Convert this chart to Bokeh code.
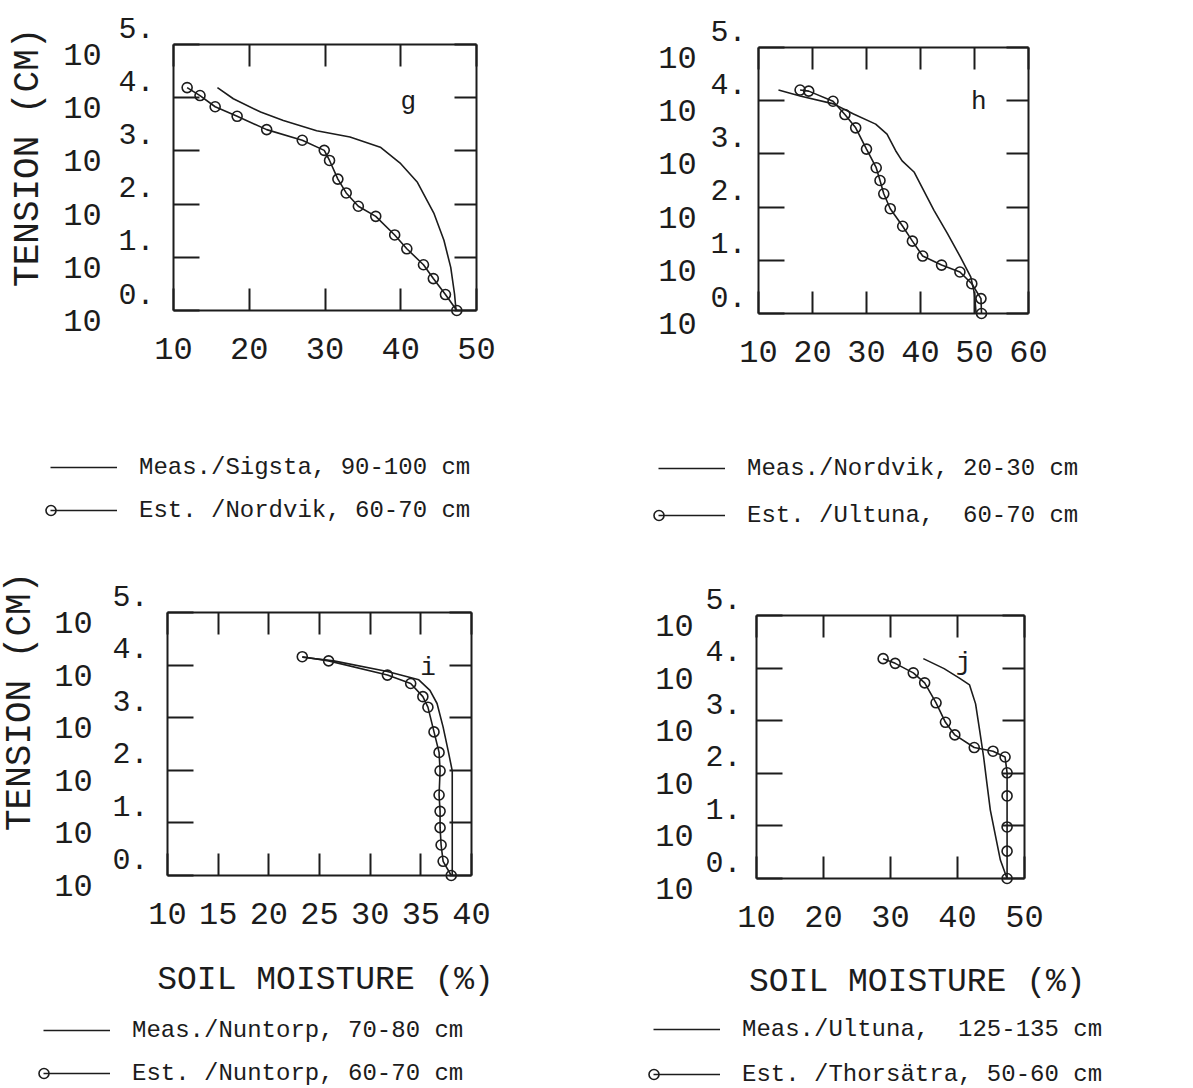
import math
from bokeh.plotting import figure
from bokeh.models import (Label, Legend, LegendItem, LinearAxis, FixedTicker,
                          Range1d, CustomJSTickFormatter)
from bokeh.layouts import column, row
from bokeh.embed import file_html
from bokeh.resources import INLINE

FONT = "Liberation Mono"
INK = "#1c1c1c"

# ---------------- data (y = log10 of tension in cm, x = soil moisture %) ----
g_est_x = [11.8, 13.5, 15.5, 18.4, 22.3, 27.0, 29.9, 30.6, 31.7, 32.8, 34.4, 36.7, 39.2, 40.8, 43.0, 44.3, 45.9, 47.4]
g_est_y = [4.19, 4.04, 3.83, 3.65, 3.40, 3.20, 3.01, 2.82, 2.47, 2.21, 1.96, 1.77, 1.42, 1.16, 0.86, 0.60, 0.30, 0.0]
g_meas_x = [15.8, 17.9, 21.5, 24.5, 28.9, 33.3, 37.3, 40.0, 42.2, 44.4, 45.7, 46.6, 47.1, 47.3]
g_meas_y = [4.19, 3.98, 3.73, 3.57, 3.38, 3.26, 3.07, 2.76, 2.41, 1.82, 1.32, 0.81, 0.31, 0.0]

h_est_x = [17.7, 19.3, 23.8, 26.0, 28.0, 30.0, 31.8, 32.5, 33.2, 34.4, 36.7, 38.5, 40.4, 43.9, 47.3, 49.5, 51.2, 51.3]
h_est_y = [4.20, 4.18, 3.99, 3.74, 3.49, 3.09, 2.74, 2.50, 2.25, 1.97, 1.64, 1.36, 1.08, 0.91, 0.78, 0.56, 0.28, 0.0]
h_meas_x = [13.7, 17.7, 23.9, 27.6, 31.7, 33.8, 35.4, 36.6, 38.8, 40.6, 42.5, 45.0, 47.4, 49.3, 50.0, 50.3]
h_meas_y = [4.20, 4.09, 3.94, 3.75, 3.56, 3.37, 3.06, 2.87, 2.66, 2.31, 1.94, 1.50, 1.06, 0.69, 0.37, 0.0]

i_est_x = [23.3, 25.9, 31.7, 34.0, 35.2, 35.7, 36.3, 36.8, 36.9, 36.8, 36.9, 36.9, 37.0, 37.2, 38.0]
i_est_y = [4.16, 4.08, 3.81, 3.65, 3.40, 3.20, 2.73, 2.34, 1.99, 1.53, 1.22, 0.91, 0.58, 0.27, 0.0]
i_meas_x = [23.3, 26.4, 31.7, 34.8, 35.9, 36.6, 37.2, 37.7, 38.1, 38.1]
i_meas_y = [4.15, 4.08, 3.88, 3.72, 3.52, 3.27, 2.82, 2.37, 1.99, 0.0]

j_est_x = [28.9, 30.7, 33.4, 35.1, 36.8, 38.2, 39.6, 42.5, 45.3, 47.1, 47.4, 47.4, 47.4, 47.4, 47.4]
j_est_y = [4.18, 4.09, 3.91, 3.72, 3.34, 2.97, 2.73, 2.49, 2.42, 2.31, 2.01, 1.57, 0.98, 0.52, 0.0]
j_meas_x = [34.9, 38.0, 40.4, 41.8, 42.7, 43.3, 43.9, 44.4, 44.9, 45.7, 46.4, 47.4]
j_meas_y = [4.18, 3.99, 3.80, 3.68, 3.32, 2.82, 2.31, 1.80, 1.30, 0.79, 0.35, 0.0]

g_xticks = [10, 20, 30, 40, 50]
h_xticks = [10, 20, 30, 40, 50, 60]
i_xticks = [10, 15, 20, 25, 30, 35, 40]
j_xticks = [10, 20, 30, 40, 50]
y_exponents = [0, 1, 2, 3, 4, 5]

g_legend = ["Meas./Sigsta, 90-100 cm", "Est. /Nordvik, 60-70 cm"]
h_legend = ["Meas./Nordvik, 20-30 cm", "Est. /Ultuna,  60-70 cm"]
i_legend = ["Meas./Nuntorp, 70-80 cm", "Est. /Nuntorp, 60-70 cm"]
j_legend = ["Meas./Ultuna,  125-135 cm", "Est. /Thorsätra, 50-60 cm"]

panel_letters = ["g", "h", "i", "j"]
y_title = "TENSION (CM)"
x_title = "SOIL MOISTURE (%)"

# ---------------- layout settings (pixels) ---------------------------------
# bl/br/bt/bb: distance of the plot box from the panel edges
layout = {
    "g": dict(w=596, h=550, bl=173, br=120, bt=44, bb=240, xr=(10, 50),
              ten_xo=-91, exp_xo=-55, letter=(41.0, 3.92),
              ytitle=(2.88, -145), xtitle=None,
              leg_x=50, leg_y=26, leg_sp=15),
    "h": dict(w=597, h=550, bl=162, br=165, bt=47, bb=237, xr=(10, 60),
              ten_xo=-81, exp_xo=-48, letter=(50.8, 3.97),
              ytitle=None, xtitle=None,
              leg_x=62, leg_y=21, leg_sp=19),
    "i": dict(w=596, h=538, bl=167, br=125, bt=62, bb=213, xr=(10, 40),
              ten_xo=-94, exp_xo=-55, letter=(35.7, 3.94),
              ytitle=(3.31, -147), xtitle=(25.6, -105),
              leg_x=43, leg_y=1, leg_sp=15),
    "j": dict(w=597, h=538, bl=160, br=169, bt=65, bb=210, xr=(10, 50),
              ten_xo=-82, exp_xo=-51, letter=(40.9, 4.10),
              ytitle=None, xtitle=(34.0, -104),
              leg_x=57, leg_y=0, leg_sp=17),
}


def add_label(p, x, y, text, size, xo=0, yo=0, align="center",
              baseline="middle", angle=0.0):
    p.add_layout(Label(x=x, y=y, text=text, x_offset=xo, y_offset=yo,
                       text_font=FONT, text_font_size=size, text_color=INK,
                       text_align=align, text_baseline=baseline, angle=angle))


def style_axis(ax, tick_len, labels):
    ax.axis_line_color = INK
    ax.axis_line_width = 2
    ax.major_tick_in = tick_len
    ax.major_tick_out = 0
    ax.major_tick_line_color = INK
    ax.major_tick_line_width = 2
    ax.minor_tick_line_color = None
    if labels:
        ax.major_label_text_font = FONT
        ax.major_label_text_font_size = "32px"
        ax.major_label_text_color = INK
        ax.major_label_standoff = 27
    else:
        ax.formatter = CustomJSTickFormatter(code="return ''")
        ax.major_label_text_font_size = "0px"


def make_panel(key, est_x, est_y, meas_x, meas_y, xticks, legend_texts, letter):
    c = layout[key]
    x0, x1 = c["xr"]
    y0, y1 = 0, 5
    sx = (c["w"] - c["bl"] - c["br"]) / (x1 - x0)
    sy = (c["h"] - c["bt"] - c["bb"]) / (y1 - y0)
    xr = Range1d(x0 - c["bl"] / sx, x1 + c["br"] / sx)
    yr = Range1d(y0 - c["bb"] / sy, y1 + c["bt"] / sy)
    p = figure(width=c["w"], height=c["h"], x_range=xr, y_range=yr,
               output_backend="svg", toolbar_location=None,
               x_axis_location=None, y_axis_location=None,
               min_border=0, min_border_left=0, min_border_right=0,
               min_border_top=0, min_border_bottom=0,
               background_fill_color="white", border_fill_color="white")
    p.grid.visible = False
    p.outline_line_color = None

    ax_b = LinearAxis(fixed_location=y0, bounds=(x0, x1), ticker=FixedTicker(ticks=xticks))
    ax_t = LinearAxis(fixed_location=y1, bounds=(x0, x1), ticker=FixedTicker(ticks=xticks))
    ax_l = LinearAxis(fixed_location=x0, bounds=(y0, y1), ticker=FixedTicker(ticks=y_exponents))
    ax_r = LinearAxis(fixed_location=x1, bounds=(y0, y1), ticker=FixedTicker(ticks=y_exponents))
    style_axis(ax_b, 22, True)
    style_axis(ax_t, 22, False)
    style_axis(ax_l, 26, False)
    style_axis(ax_r, 22, False)
    p.add_layout(ax_b, "below")
    p.add_layout(ax_t, "above")
    p.add_layout(ax_l, "left")
    p.add_layout(ax_r, "right")

    r_meas = p.line(meas_x, meas_y, line_color=INK, line_width=1.6)
    r_est = p.line(est_x, est_y, line_color=INK, line_width=1.6)
    r_pts = p.scatter(est_x, est_y, marker="circle", size=10, fill_color=None,
                      line_color=INK, line_width=1.6)

    # y tick labels: "10" with its exponent
    for k in y_exponents:
        add_label(p, x0, k, "10", "32px", xo=c["ten_xo"], yo=-10)
        add_label(p, x0, k, f"{k}.", "30px", xo=c["exp_xo"], yo=17,
                  align="left")
    add_label(p, letter[0], letter[1], letter[2], "26px", baseline="alphabetic")
    if c["ytitle"] is not None:
        add_label(p, x0, c["ytitle"][0], y_title, "36px",
                  xo=c["ytitle"][1], angle=math.pi / 2)
    if c["xtitle"] is not None:
        add_label(p, c["xtitle"][0], y0, x_title, "33px", yo=c["xtitle"][1])

    leg = Legend(items=[LegendItem(label=legend_texts[0], renderers=[r_meas]),
                        LegendItem(label=legend_texts[1], renderers=[r_est])],
                 location=(c["leg_x"], c["leg_y"]), orientation="vertical",
                 glyph_width=67, glyph_height=28, label_height=28,
                 label_standoff=22, spacing=c["leg_sp"], padding=0, margin=0,
                 border_line_color=None, background_fill_alpha=0,
                 label_text_font=FONT, label_text_font_size="24px",
                 label_text_color=INK, label_text_baseline="middle")
    p.add_layout(leg)
    leg2 = Legend(items=[LegendItem(label=" ", renderers=[r_pts])],
                  location=(c["leg_x"] - 12, c["leg_y"]), glyph_width=25,
                  glyph_height=28, label_height=28, label_standoff=0,
                  padding=0, margin=0, border_line_color=None,
                  background_fill_alpha=0, label_text_font=FONT,
                  label_text_font_size="24px")
    p.add_layout(leg2)
    return p


pg = make_panel("g", g_est_x, g_est_y, g_meas_x, g_meas_y, g_xticks, g_legend,
                (*layout["g"]["letter"], panel_letters[0]))
ph = make_panel("h", h_est_x, h_est_y, h_meas_x, h_meas_y, h_xticks, h_legend,
                (*layout["h"]["letter"], panel_letters[1]))
pi_ = make_panel("i", i_est_x, i_est_y, i_meas_x, i_meas_y, i_xticks, i_legend,
                 (*layout["i"]["letter"], panel_letters[2]))
pj = make_panel("j", j_est_x, j_est_y, j_meas_x, j_meas_y, j_xticks, j_legend,
                (*layout["j"]["letter"], panel_letters[3]))

page = column(row(pg, ph, spacing=0), row(pi_, pj, spacing=0), spacing=0)
open("out.html", "w").write(file_html(page, INLINE))
